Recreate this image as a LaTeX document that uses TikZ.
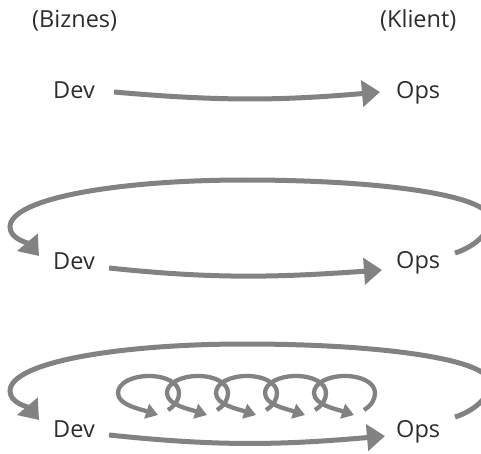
\documentclass[tikz,border=0pt]{standalone}
\usepackage{fontspec}
\setmainfont{Open Sans}
\usetikzlibrary{arrows.meta}
\definecolor{arrowgray}{RGB}{130,130,130}
\definecolor{textgray}{RGB}{45,45,45}
\begin{document}
\begin{tikzpicture}[x=1pt,y=1pt,
                    word/.style={anchor=base west,inner sep=0pt,text=textgray,font=\fontsize{23.5}{28}\selectfont},
                    flow/.style={draw=arrowgray,line width=5pt,-{Triangle[length=18pt,width=26pt]}},
                    coil/.style={draw=arrowgray,line width=4.3pt,-{Triangle[length=12pt,width=15pt]}}]
  \useasboundingbox (0,0) rectangle (481,453);
  % headings
  \node[word] (biz) at (32,425) {(Biznes)};
  \node[word] (kli) at (380,425) {(Klient)};
  % three rows of Dev / Ops
  \node[word] (d1) at (53,354) {Dev};
  \node[word] (o1) at (396,354) {Ops};
  \node[word] (d2) at (53,184) {Dev};
  \node[word] (o2) at (396,185) {Ops};
  \node[word] (d3) at (53,16) {Dev};
  \node[word] (o3) at (396,16) {Ops};
  % straight flows
  \draw[flow] ([shift={(19,7)}]d1.base east) to[out=-5,in=185] ([shift={(-16,7)}]o1.base west);
  \draw[flow] ([shift={(14,1)}]d2.base east) to[out=-6,in=184] ([shift={(-14,-2)}]o2.base west);
  \draw[flow] ([shift={(14,2)}]d3.base east) to[out=-6,in=185] ([shift={(-11,1)}]o3.base west);
  % feedback loops back from Ops to Dev
  \foreach \dy in {0,-164}
    \draw[flow,yshift=\dy] (455,200) .. controls (474,206) and (490,220) .. (490,234)
        .. controls (490,258) and (380,273) .. (245,273)
        .. controls (120,273) and (10,255) .. (10,226)
        .. controls (10,214) and (28,210) .. (39,197);
  % small iterations
  \foreach \i in {0,...,4}
    \draw[coil,xshift=49*\i] (168,43) .. controls (176,48) and (179,54) .. (179,60)
        .. controls (179,70) and (166,77) .. (149,77)
        .. controls (132,77) and (118,70) .. (118,60)
        .. controls (118,48) and (140,44) .. (158,38);
\end{tikzpicture}
\end{document}
